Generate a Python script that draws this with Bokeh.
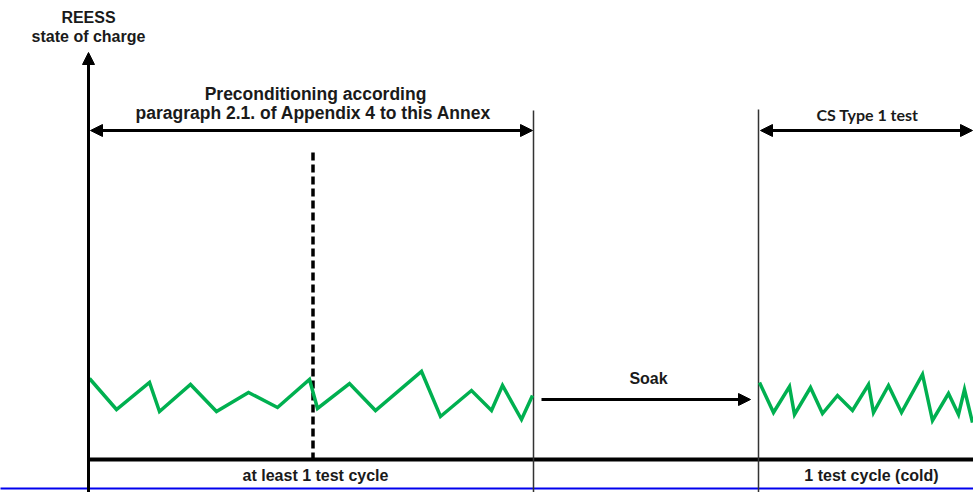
from bokeh.plotting import figure
from bokeh.models import Range1d, Arrow, NormalHead, ColumnDataSource
from bokeh.core.properties import value
from bokeh.embed import file_html
from bokeh.resources import INLINE

# Time axis (arbitrary units) and state of charge (arbitrary units)
pre_t = [1, 28, 61, 71, 102, 128, 160, 189, 221, 229, 261, 287, 333, 352, 383, 403, 414, 433, 444]
pre_soc = [81, 50, 77, 48, 75, 48, 67, 52, 80, 51, 76, 49, 88, 43, 69, 49, 74, 40, 64]

cold_t = [671, 685, 701, 706, 722, 734, 749, 764, 780, 785, 800, 813, 834, 844, 860, 870, 876, 884]
cold_soc = [77, 47, 73, 45, 72, 46, 64, 49, 75, 47, 74, 47, 85, 39, 66, 45, 70, 37]

# phase boundaries
t_start = 0
t_min_cycle = 224.5
t_pre_end = 445
t_cold_start = 670

p = figure(width=973, height=492, output_backend="svg", toolbar_location=None,
           x_range=Range1d(-88, 885), y_range=Range1d(-33, 459),
           min_border=0, outline_line_color=None)
p.axis.visible = False
p.grid.visible = False
p.background_fill_color = "white"

BLACK = "#000000"
TXT = "#1a1a1a"
GREEN = "#00b050"

# bottom blue rule
p.segment(x0=[-100], y0=[-29], x1=[900], y1=[-29], line_color="#0000ee", line_width=2)

# baseline (time axis)
p.segment(x0=[t_start], y0=[0], x1=[900], y1=[0], line_color=BLACK, line_width=4)

# phase separators
p.segment(x0=[t_pre_end, t_cold_start], y0=[349, 350], x1=[t_pre_end, t_cold_start], y1=[-40, -40],
          line_color="#333333", line_width=1.5)

# dashed line
p.segment(x0=[t_min_cycle], y0=[307], x1=[t_min_cycle], y1=[0], line_color=BLACK,
          line_width=3.5, line_dash="8 4")

# SOC traces
p.line(pre_t, pre_soc, line_color=GREEN, line_width=3.5, line_join="miter")
p.line(cold_t, cold_soc, line_color=GREEN, line_width=3.5, line_join="miter")

def head():
    return NormalHead(size=12, fill_color=BLACK, line_color=BLACK, line_width=1)

# vertical SOC axis with arrow
p.add_layout(Arrow(x_start=t_start, y_start=-40, x_end=t_start, y_end=407,
                   line_width=3, line_color=BLACK, end=head()))
# preconditioning double arrow
p.add_layout(Arrow(x_start=2, y_start=329, x_end=t_pre_end - 1, y_end=329,
                   line_width=3, line_color=BLACK, start=head(), end=head()))
# CS type 1 test double arrow
p.add_layout(Arrow(x_start=t_cold_start + 2, y_start=329, x_end=884, y_end=329,
                   line_width=3, line_color=BLACK, start=head(), end=head()))
# soak arrow
p.add_layout(Arrow(x_start=453, y_start=60, x_end=662, y_end=60,
                   line_width=3, line_color=BLACK, end=head()))

labels = ColumnDataSource(dict(
    x=[0, 0, 227, 225, 560, 227, 783],
    y=[442, 423, 366, 347, 81, -16, -16],
    text=["REESS", "state of charge", "Preconditioning according",
          "paragraph 2.1. of Appendix 4 to this Annex", "Soak",
          "at least 1 test cycle", "1 test cycle (cold)"],
    size=["16px", "16px", "17.5px", "17.5px", "16px", "16px", "16px"],
))
p.text(x="x", y="y", text="text", source=labels, text_font=value("Liberation Sans"),
       text_font_style="bold", text_font_size="size", text_align="center",
       text_baseline="middle", text_color=TXT)

p.text(x=[779], y=[345], text=["CS Type 1 test"], text_font=value("Lato"),
       text_font_style="bold", text_font_size="16px", text_align="center",
       text_baseline="middle", text_color=TXT)

open("out.html", "w").write(file_html(p, INLINE))
